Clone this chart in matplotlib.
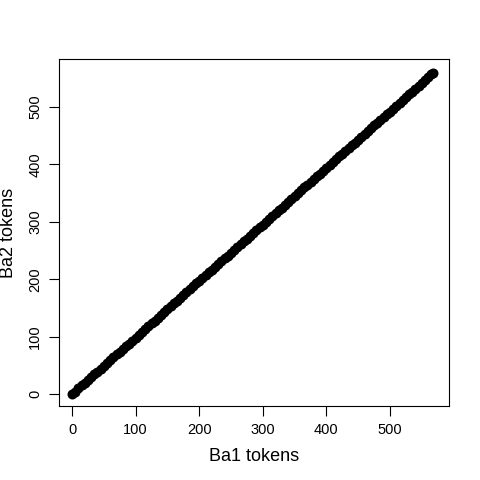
import matplotlib
matplotlib.use("Agg")
import matplotlib.pyplot as plt

ba1 = [0, 5, 10, 15, 20, 25, 30, 35, 40, 45,
       50, 55, 60, 65, 70, 75, 80, 85, 90, 95,
       100, 105, 110, 115, 120, 125, 130, 135, 140, 145,
       150, 155, 160, 165, 170, 175, 180, 185, 190, 195,
       200, 205, 210, 215, 220, 225, 230, 235, 240, 245,
       250, 255, 260, 265, 270, 275, 280, 285, 290, 295,
       300, 305, 310, 315, 320, 325, 330, 335, 340, 345,
       350, 355, 360, 365, 370, 375, 380, 385, 390, 395,
       400, 405, 410, 415, 420, 425, 430, 435, 440, 445,
       450, 455, 460, 465, 470, 475, 480, 485, 490, 495,
       500, 505, 510, 515, 520, 525, 530, 535, 540, 545,
       550, 555, 560, 565, 568]
ba2 = [0, 4, 10, 16, 20, 25, 30, 35, 39, 44,
       49, 54, 59, 64, 69, 74, 78, 83, 88, 93,
       97, 103, 109, 114, 118, 123, 128, 133, 138, 143,
       148, 153, 158, 163, 168, 173, 178, 183, 188, 193,
       197, 202, 207, 212, 217, 222, 227, 232, 237, 241,
       246, 251, 256, 261, 266, 271, 276, 281, 286, 291,
       295, 300, 305, 310, 315, 320, 325, 330, 335, 340,
       345, 350, 355, 360, 364, 369, 374, 379, 384, 389,
       394, 399, 404, 409, 414, 419, 424, 428, 433, 438,
       443, 448, 453, 458, 463, 468, 473, 478, 483, 488,
       492, 497, 502, 507, 512, 517, 522, 527, 532, 537,
       542, 547, 552, 557, 560]
xticks = [0, 100, 200, 300, 400, 500]
yticks = [0, 100, 200, 300, 400, 500]

plt.rcParams["font.family"] = ["Liberation Sans", "DejaVu Sans"]

fig = plt.figure(figsize=(4.8, 4.8), dpi=100)
ax = fig.add_axes([0.123, 0.154, 0.8125, 0.723])

ax.plot(ba1, ba2, "o", color="black", markersize=7.2, markeredgewidth=0)

ax.set_xlim(-20.4, 592.8)
ax.set_ylim(-20.9, 583.6)
ax.set_xticks(xticks)
ax.set_yticks(yticks)
ax.tick_params(direction="out", length=7, width=0.8, labelsize=10.5, pad=5)
for lbl in ax.get_yticklabels():
    lbl.set_rotation(90)
    lbl.set_verticalalignment("center")

ax.set_xlabel("Ba1 tokens", fontsize=13, labelpad=8)
ax.set_ylabel("Ba2 tokens", fontsize=13, labelpad=8)

fig.savefig("out.png", dpi=100)
